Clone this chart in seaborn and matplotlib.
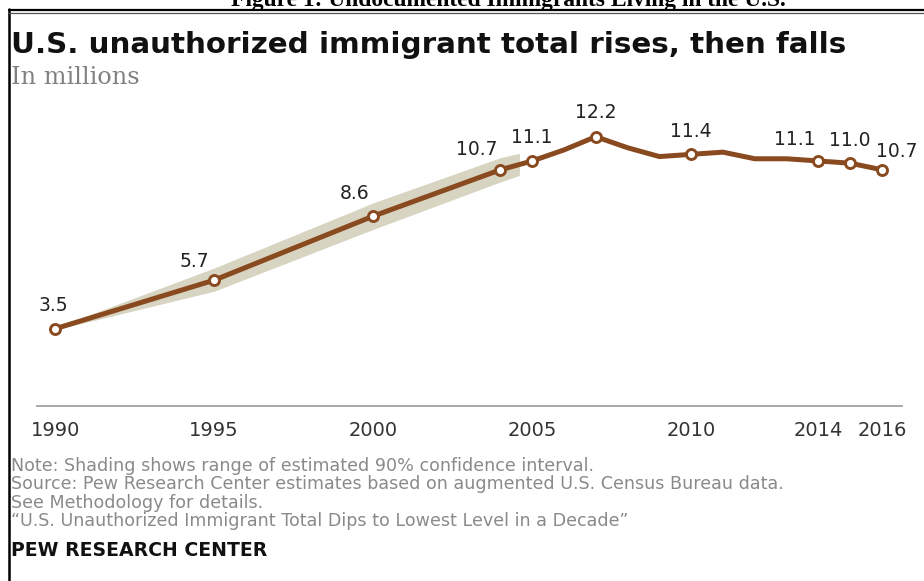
import matplotlib
matplotlib.use("Agg")
import matplotlib.pyplot as plt
import seaborn as sns
import pandas as pd
from matplotlib.lines import Line2D

# ---------------- data ----------------
years = [1990, 1995, 2000, 2004, 2005, 2006, 2007, 2008, 2009, 2010, 2011, 2012, 2013, 2014, 2015, 2016]
values = [3.5, 5.7, 8.6, 10.7, 11.1, 11.6, 12.2, 11.7, 11.3, 11.4, 11.5, 11.2, 11.2, 11.1, 11.0, 10.7]

marker_years = [1990, 1995, 2000, 2004, 2005, 2007, 2010, 2014, 2015, 2016]
marker_values = [3.5, 5.7, 8.6, 10.7, 11.1, 12.2, 11.4, 11.1, 11.0, 10.7]
marker_labels = ["3.5", "5.7", "8.6", "10.7", "11.1", "12.2", "11.4", "11.1", "11.0", "10.7"]

band_years = [1990, 1995, 2000, 2004, 2004.6]
band_low = [3.45, 5.2, 8.0, 10.15, 10.45]
band_high = [3.55, 6.25, 9.2, 11.25, 11.45]

tick_years = [1990, 1995, 2000, 2005, 2010, 2014, 2016]
tick_labels = ["1990", "1995", "2000", "2005", "2010", "2014", "2016"]

fig_title = "Figure 1: Undocumented Immigrants Living in the U.S."
title = "U.S. unauthorized immigrant total rises, then falls"
subtitle = "In millions"
notes = [
    "Note: Shading shows range of estimated 90% confidence interval.",
    "Source: Pew Research Center estimates based on augmented U.S. Census Bureau data.",
    "See Methodology for details.",
    "\u201cU.S. Unauthorized Immigrant Total Dips to Lowest Level in a Decade\u201d",
]
credit = "PEW RESEARCH CENTER"

# ---------------- style ----------------
sns.set_style("white")
plt.rcParams["font.family"] = ["DejaVu Sans"]

W, H = 924, 581
LINE_C = "#8a4a1f"
BAND_C = "#d8d4c2"

fig = plt.figure(figsize=(W / 100, H / 100), dpi=100)
renderer = fig.canvas.get_renderer()


def fx(x):
    return x / W


def fy(y):
    return 1 - y / H


def fit(t, width_px):
    fs = t.get_fontsize()
    w = t.get_window_extent(renderer).width
    t.set_fontsize(fs * width_px / w)
    return t


ax = fig.add_axes([fx(37), fy(406), 865 / W, (406 - 108) / H])
ax.set_xlim(1989.43, 2016.63)
ax.set_ylim(0, 13.5)

df = pd.DataFrame({"year": years, "value": values})
mk = pd.DataFrame({"year": marker_years, "value": marker_values})

ax.fill_between(band_years, band_low, band_high, color=BAND_C, lw=0, zorder=1)
sns.lineplot(data=df, x="year", y="value", ax=ax, color=LINE_C, lw=3.6,
             zorder=3, solid_joinstyle="round", solid_capstyle="round")
sns.scatterplot(data=mk, x="year", y="value", ax=ax, s=52, color="white",
                edgecolor=LINE_C, linewidth=2.1, zorder=4)

offsets = [(-2, 23), (-20, 19), (-19, 23), (-24, 20), (0, 23), (0, 24),
           (0, 23), (-24, 21), (0, 23), (15, 18)]
for xv, yv, lab, (dx, dy) in zip(marker_years, marker_values, marker_labels, offsets):
    ax.annotate(lab, (xv, yv), xytext=(dx, dy), textcoords="offset pixels",
                ha="center", va="center", fontsize=13.5, color="#222222", zorder=5)

for s in ["top", "right", "left"]:
    ax.spines[s].set_visible(False)
ax.spines["bottom"].set_color("#a8a8a8")
ax.spines["bottom"].set_linewidth(1.4)
ax.set_yticks([])
ax.set_xticks(tick_years)
ax.set_xticklabels(tick_labels)
ax.tick_params(axis="x", length=0, pad=11, labelsize=14, labelcolor="#333333")
ax.set_xlabel("")
ax.set_ylabel("")

# ---------------- frame ----------------
fig.add_artist(Line2D([fx(9), fx(9)], [fy(9), fy(581)], color="black", lw=1.8))
fig.add_artist(Line2D([fx(9), 1], [fy(9.5), fy(9.5)], color="black", lw=1.6))
fig.add_artist(Line2D([fx(9), 1], [fy(13), fy(13)], color="#555555", lw=0.9))

# ---------------- texts ----------------
t = fig.text(fx(508), fy(6), fig_title, ha="center", va="baseline", fontsize=16,
             fontweight="bold", family=["Liberation Serif"], color="black")
fit(t, 560)

t = fig.text(fx(11), fy(45), title, ha="left", va="center", fontsize=20,
             fontweight="bold", color="#111111")
fit(t, 835)

t = fig.text(fx(11), fy(77), subtitle, ha="left", va="center", fontsize=11,
             family=["DejaVu Serif"], color="#808080")
fit(t, 128)

for i, line in enumerate(notes):
    fig.text(fx(11), fy(466 + 18.3 * i), line, ha="left", va="center",
             fontsize=12.6, color="#8a8a8a")

t = fig.text(fx(11), fy(551), credit, ha="left", va="center", fontsize=11,
             fontweight="bold", color="#111111")
fit(t, 255)

fig.savefig("out.png", dpi=100)
